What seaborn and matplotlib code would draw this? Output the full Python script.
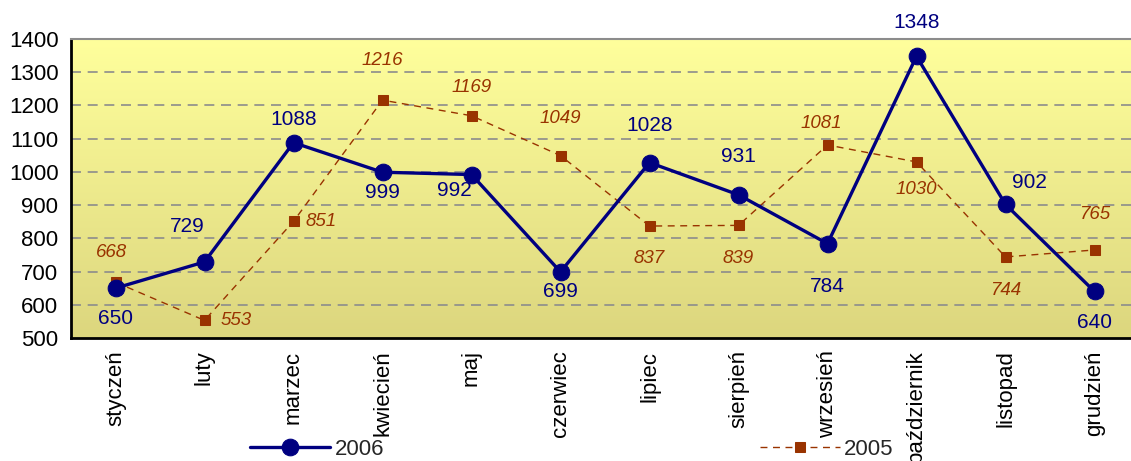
import numpy as np
import pandas as pd
import matplotlib
matplotlib.use('Agg')
import matplotlib.pyplot as plt
import seaborn as sns

months = ['styczeń', 'luty', 'marzec', 'kwiecień', 'maj', 'czerwiec',
          'lipiec', 'sierpień', 'wrzesień', 'październik', 'listopad', 'grudzień']
y2006 = [650, 729, 1088, 999, 992, 699, 1028, 931, 784, 1348, 902, 640]
y2005 = [668, 553, 851, 1216, 1169, 1049, 837, 839, 1081, 1030, 744, 765]

# label offsets in pixels (dx, dy) relative to the marker
off2006 = [(0, -30), (-17, 35), (0, 23), (0, -20), (-17, -16), (0, -20),
           (0, 37), (0, 38), (0, -43), (0, 34), (24, 22), (0, -31)]
off2005 = [(-4, 30), (32, 0), (28, 0), (0, 40), (0, 28), (0, 37),
           (0, -32), (0, -33), (-6, 21), (0, -28), (0, -34), (0, 35)]

navy = '#000080'
brown = '#993300'

sns.set_style("white")
plt.rcParams['font.family'] = ['Liberation Sans', 'DejaVu Sans']

df = pd.DataFrame({'idx': list(range(12)) * 2,
                   'val': y2006 + y2005,
                   'rok': ['2006'] * 12 + ['2005'] * 12})

fig = plt.figure(figsize=(11.31, 4.61), dpi=100)
ax = fig.add_axes([71 / 1131, 1 - 338 / 461, 1068 / 1131, 299 / 461])

# gradient background
grad = np.linspace(0, 1, 256).reshape(-1, 1)
cmap = matplotlib.colors.LinearSegmentedColormap.from_list('bg', ['#dcd67e', '#ffff9c'])
ax.imshow(grad, cmap=cmap, aspect='auto', extent=[-0.5, 11.5, 500, 1400],
          origin='lower', zorder=0)

for v in range(600, 1400, 100):
    ax.axhline(v, color='#8c8c8c', lw=1.2, ls=(0, (6, 4)), zorder=1)

d5 = df[df['rok'] == '2005']
d6 = df[df['rok'] == '2006']
sns.lineplot(data=d5, x='idx', y='val', ax=ax, color=brown, lw=1, marker='s',
             markersize=7, markeredgecolor=brown, linestyle=(0, (5, 4)), zorder=3,
             label='2005')
sns.lineplot(data=d6, x='idx', y='val', ax=ax, color=navy, lw=2.4, marker='o',
             markersize=12, markeredgecolor=navy, zorder=4, label='2006')

for i, v in enumerate(y2006):
    dx, dy = off2006[i]
    ax.annotate(str(v), (i, v), xytext=(dx * 0.72, dy * 0.72), textcoords='offset points',
                ha='center', va='center', color=navy, fontsize=15, zorder=5)
for i, v in enumerate(y2005):
    dx, dy = off2005[i]
    ax.annotate(str(v), (i, v), xytext=(dx * 0.72, dy * 0.72), textcoords='offset points',
                ha='center', va='center', color=brown, fontsize=13.5, style='italic', zorder=5)

ax.set_xlim(-0.5, 11.5)
ax.set_ylim(500, 1400)
ax.set_yticks(range(500, 1401, 100))
ax.set_xticks(range(12))
ax.set_xticklabels(months, rotation=90, fontsize=16)
ax.set_xticks(np.arange(-0.5, 12, 1), minor=True)
ax.tick_params(axis='x', which='major', length=0, pad=9)
ax.tick_params(axis='x', which='minor', length=6, width=2, direction='out', color='black')
ax.tick_params(axis='y', length=6, width=2, direction='out', color='black', labelsize=16, pad=3)
ax.set_xlabel('')
ax.set_ylabel('')
ax.tick_params(axis='both', labelcolor='black')

for s in ['left', 'bottom']:
    ax.spines[s].set_color('black')
    ax.spines[s].set_linewidth(2)
ax.spines['top'].set_color('#8c8c8c')
ax.spines['top'].set_linewidth(1.5)
ax.spines['right'].set_visible(False)

handles, labels = ax.get_legend_handles_labels()
ax.get_legend().remove()
h = dict(zip(labels, handles))
fig.legend([h['2006'], h['2005']], ['2006', '2005'], loc='center', ncol=2,
           bbox_to_anchor=(572 / 1131, 1 - 449 / 461), frameon=False, fontsize=16,
           handlelength=3.6, columnspacing=16.9, handletextpad=0.2, borderpad=0)

fig.savefig('out.png', dpi=100)
